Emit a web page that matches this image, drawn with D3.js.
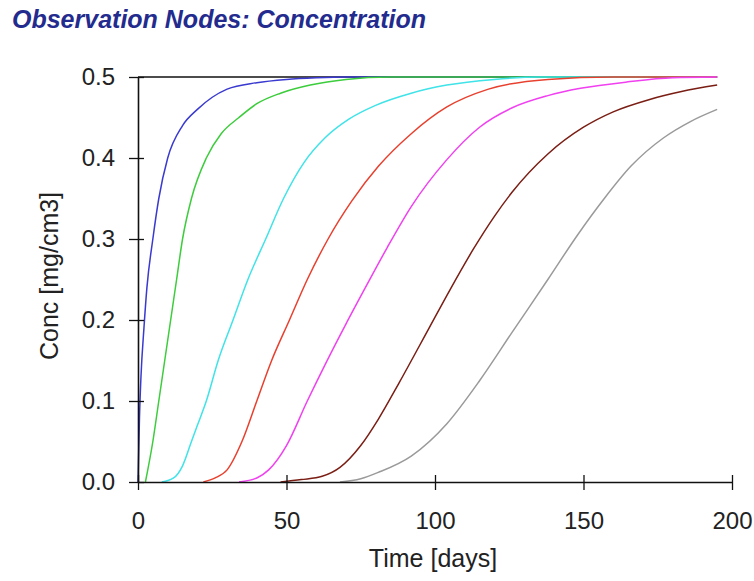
<!DOCTYPE html>
<html>
<head>
<meta charset="utf-8">
<script src="https://cdn.jsdelivr.net/npm/d3@7"></script>
<style>
body { margin: 0; background: #fff; }
svg { font-family: "Liberation Sans", Arial, sans-serif; }
</style>
</head>
<body>
<svg id="chart" width="754" height="581"></svg>
<script>
// values: [time (days), conc (mg/cm3)]
var blue = [[0,0],[0.5,0.08],[1,0.13],[2,0.19],[3,0.24],[5,0.30],[7,0.35],[10,0.40],[15,0.44],[20,0.46],[25,0.475],[30,0.485],[40,0.493],[50,0.497],[60,0.499],[70,0.5],[195,0.5]];
var green = [[2.5,0],[5,0.05],[7,0.1],[9,0.15],[11,0.2],[13,0.25],[15,0.3],[18,0.35],[23,0.4],[28,0.43],[34,0.45],[40,0.467],[48,0.48],[58,0.49],[70,0.497],[85,0.5],[195,0.5]];
var cyan = [[8,0],[12,0.005],[15,0.02],[18,0.05],[20,0.07],[23,0.1],[27,0.15],[32,0.2],[37,0.25],[43,0.3],[49,0.35],[56,0.395],[63,0.425],[71,0.448],[80,0.465],[92,0.48],[104,0.49],[120,0.497],[135,0.5],[195,0.5]];
var red = [[22,0],[26,0.005],[30,0.015],[35,0.05],[40,0.1],[45,0.15],[51,0.2],[57,0.25],[64,0.3],[72,0.347],[81,0.39],[92,0.43],[104,0.463],[118,0.485],[138,0.497],[160,0.5],[195,0.5]];
var magenta = [[34,0],[40,0.005],[44,0.015],[50,0.045],[57,0.1],[63,0.145],[70,0.195],[77,0.243],[84,0.29],[92,0.34],[104,0.398],[115,0.438],[126,0.462],[138,0.477],[149,0.486],[165,0.494],[180,0.499],[195,0.5]];
var brown = [[48,0],[55,0.003],[62,0.007],[68,0.018],[75,0.045],[81,0.078],[88,0.123],[98,0.19],[105,0.237],[113,0.288],[120,0.328],[126,0.358],[138,0.405],[150,0.438],[160,0.457],[172,0.472],[183,0.482],[195,0.49]];
var grey = [[68,0],[75,0.004],[81,0.012],[92,0.032],[104,0.072],[115,0.125],[126,0.185],[138,0.25],[148,0.305],[157,0.35],[166,0.39],[177,0.425],[186,0.445],[195,0.46]];

var series = [blue, green, cyan, red, magenta, brown, grey];
var colors = ["#3a3ad0", "#3ccc3c", "#3fe3e8", "#e8402e", "#f040f0", "#7a1e14", "#9a9a9a"];

var xTicks = [0, 50, 100, 150, 200];
var yTicks = [0, 0.1, 0.2, 0.3, 0.4, 0.5];
var yTickLabels = ["0.0", "0.1", "0.2", "0.3", "0.4", "0.5"];
var maxLine = [[0, 0.5], [195, 0.5]];

var svg = d3.select("#chart");
var plotLeft = 138, plotRight = 732, plotTop = 77, plotBottom = 482;

var xs = d3.scaleLinear().domain([0, 200]).range([plotLeft, plotRight]);
var ys = d3.scaleLinear().domain([0, 0.5]).range([plotBottom, plotTop]);

// title
svg.append("text")
    .attr("x", 12)
    .attr("y", 28)
    .style("font-size", "25px")
    .style("font-weight", "bold")
    .style("font-style", "italic")
    .style("fill", "#232c8e")
    .text("Observation Nodes: Concentration");

var line = d3.line()
    .x(function(d) { return xs(d[0]); })
    .y(function(d) { return ys(d[1]); })
    .curve(d3.curveMonotoneX);

svg.append("path")
    .attr("d", line(maxLine))
    .attr("fill", "none")
    .attr("stroke", "#111")
    .attr("stroke-width", 1.6);

svg.selectAll("path.curve")
    .data(series)
    .enter()
    .append("path")
        .attr("class", "curve")
        .attr("d", line)
        .attr("fill", "none")
        .attr("stroke", function(d, i) { return colors[i]; })
        .attr("stroke-width", 1.5);

// axes, ticks cross the axis line
var yAxis = d3.axisLeft(ys)
    .tickValues(yTicks)
    .tickFormat(function(d, i) { return yTickLabels[i]; })
    .tickSizeInner(9)
    .tickSizeOuter(0)
    .tickPadding(14);

var xAxis = d3.axisBottom(xs)
    .tickValues(xTicks)
    .tickSizeInner(8)
    .tickSizeOuter(0)
    .tickPadding(22);

var gy = svg.append("g")
    .attr("transform", "translate(" + plotLeft + ",0)")
    .call(yAxis);
var gx = svg.append("g")
    .attr("transform", "translate(0," + plotBottom + ")")
    .call(xAxis);

[gx, gy].forEach(function(g) {
    g.select(".domain").attr("stroke", "#111").attr("stroke-width", 1.6);
    g.selectAll(".tick line").attr("stroke", "#111").attr("stroke-width", 1.3);
    g.selectAll(".tick text")
        .style("font-size", "24px")
        .style("font-family", "'Liberation Sans', Arial, sans-serif")
        .attr("fill", "#222");
});
gy.selectAll(".tick line").attr("x1", 6);
gx.selectAll(".tick line").attr("y1", -7);

svg.append("text")
    .attr("x", 433)
    .attr("y", 567)
    .style("text-anchor", "middle")
    .style("font-size", "25px")
    .style("fill", "#222")
    .text("Time [days]");

svg.append("text")
    .attr("transform", "translate(58,276) rotate(-90)")
    .style("text-anchor", "middle")
    .style("font-size", "25px")
    .style("fill", "#222")
    .text("Conc [mg/cm3]");
</script>
</body>
</html>
